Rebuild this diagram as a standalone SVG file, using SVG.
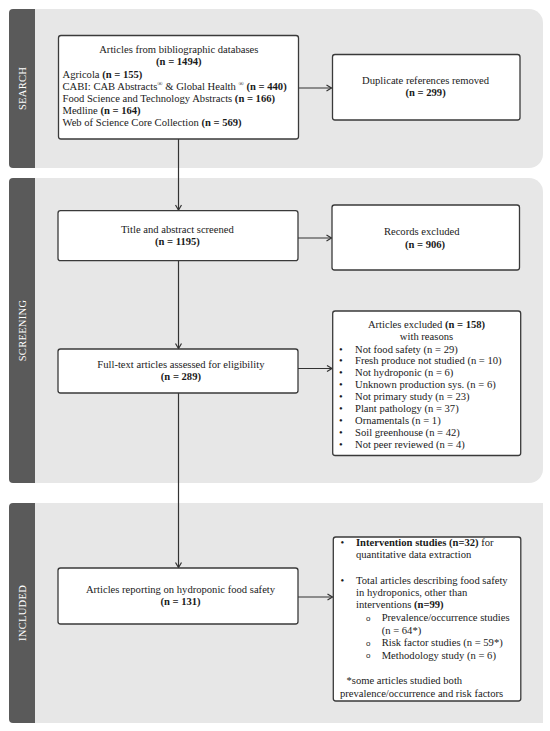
<svg xmlns="http://www.w3.org/2000/svg" width="550" height="731" viewBox="0 0 550 731">
<defs>
<style>
.panel{fill:#e7e7e7}
.side{fill:#5a5a5a}
.stage{fill:#ffffff;font-family:"Liberation Serif",serif;font-size:10.5px;text-anchor:middle;letter-spacing:0.3px}
.box{fill:#ffffff;stroke:#3a3a3a;stroke-width:1.3}
.t{font-family:"Liberation Serif",serif;font-size:10.6px;fill:#1a1a1a}
.c{text-anchor:middle}
.b{font-weight:bold}
.sup{font-size:7px}
.o{font-family:"Liberation Sans",sans-serif;font-size:8px;fill:#1a1a1a}
.conn{stroke:#333333;stroke-width:1.2;fill:none}
</style>
<marker id="ah" markerUnits="userSpaceOnUse" markerWidth="8" markerHeight="8" refX="6" refY="4" orient="auto">
<path d="M1,1 L6,4 L1,7" fill="none" stroke="#333333" stroke-width="1.2"/>
</marker>
</defs>

<g id="panels">
<rect class="panel" x="9" y="9" width="534" height="159" rx="14"/>
<path class="side" d="M13,9 H35 V168 H13 Q9,168 9,164 V13 Q9,9 13,9 Z"/>
<text class="stage" transform="translate(25.5,88.5) rotate(-90)">SEARCH</text>
<rect class="panel" x="9" y="178" width="534" height="305" rx="14"/>
<path class="side" d="M13,178 H35 V483 H13 Q9,483 9,479 V182 Q9,178 13,178 Z"/>
<text class="stage" transform="translate(25.5,330.5) rotate(-90)">SCREENING</text>
<rect class="panel" x="15" y="503" width="528" height="220"/>
<path class="side" d="M13,503 H35 V723 H13 Q9,723 9,719 V507 Q9,503 13,503 Z"/>
<text class="stage" transform="translate(25.5,613) rotate(-90)">INCLUDED</text>
</g>

<g id="connectors">
<line class="conn" x1="298.5" y1="88" x2="331.5" y2="88" marker-end="url(#ah)"/>
<line class="conn" x1="178.5" y1="139" x2="178.5" y2="210" marker-end="url(#ah)"/>
<line class="conn" x1="298" y1="238" x2="331.5" y2="238" marker-end="url(#ah)"/>
<line class="conn" x1="178.5" y1="261" x2="178.5" y2="348.5" marker-end="url(#ah)"/>
<line class="conn" x1="298" y1="368.5" x2="332" y2="368.5" marker-end="url(#ah)"/>
<line class="conn" x1="178.5" y1="393" x2="178.5" y2="567.5" marker-end="url(#ah)"/>
<line class="conn" x1="298" y1="597" x2="332.5" y2="597" marker-end="url(#ah)"/>
</g>

<g id="databases">
<rect class="box" x="58.5" y="35.5" width="240" height="103.5" rx="2.5"/>
<text class="t c" x="178.8" y="52.5">Articles from bibliographic databases</text>
<text class="t c b" x="178.8" y="65">(n = 1494)</text>
<text class="t" x="62.5" y="77.5">Agricola <tspan class="b">(n = 155)</tspan></text>
<text class="t" x="62.5" y="89.7">CABI: CAB Abstracts<tspan class="sup" dy="-3.5">®</tspan><tspan dy="3.5"> &amp; Global Health </tspan><tspan class="sup" dy="-3.5">®</tspan><tspan dy="3.5"> </tspan><tspan class="b">(n = 440)</tspan></text>
<text class="t" x="62.5" y="101.9">Food Science and Technology Abstracts <tspan class="b">(n = 166)</tspan></text>
<text class="t" x="62.5" y="114.1">Medline <tspan class="b">(n = 164)</tspan></text>
<text class="t" x="62.5" y="126.3">Web of Science Core Collection <tspan class="b">(n = 569)</tspan></text>
</g>

<g id="duplicates">
<rect class="box" x="332.5" y="54.5" width="187.5" height="65.5" rx="2.5"/>
<text class="t c" x="425.6" y="84">Duplicate references removed</text>
<text class="t c b" x="425.6" y="96">(n = 299)</text>
</g>

<g id="title-abstract">
<rect class="box" x="58" y="210.7" width="240" height="50" rx="2.5"/>
<text class="t c" x="177.4" y="232.7">Title and abstract screened</text>
<text class="t c b" x="177.4" y="245">(n = 1195)</text>
</g>

<g id="records-excluded">
<rect class="box" x="332" y="205" width="187.5" height="65" rx="2.5"/>
<text class="t c" x="421.7" y="235">Records excluded</text>
<text class="t c b" x="425" y="247.5">(n = 906)</text>
</g>

<g id="full-text">
<rect class="box" x="58" y="349" width="240" height="44" rx="2.5"/>
<text class="t c" x="180.9" y="367.5">Full-text articles assessed for eligibility</text>
<text class="t c b" x="180.9" y="379.5">(n = 289)</text>
</g>

<g id="articles-excluded">
<rect class="box" x="332.7" y="311" width="188" height="144.5" rx="2.5"/>
<text class="t c" x="426.5" y="328">Articles excluded <tspan class="b">(n = 158)</tspan></text>
<text class="t c" x="426.5" y="340">with reasons</text>
<text class="t" x="339" y="352.5">•</text>
<text class="t" x="339" y="364.4">•</text>
<text class="t" x="339" y="376.3">•</text>
<text class="t" x="339" y="388.2">•</text>
<text class="t" x="339" y="400.1">•</text>
<text class="t" x="339" y="412">•</text>
<text class="t" x="339" y="423.9">•</text>
<text class="t" x="339" y="435.8">•</text>
<text class="t" x="339" y="447.7">•</text>
<text class="t" x="355" y="352.5">Not food safety (n = 29)</text>
<text class="t" x="355" y="364.4">Fresh produce not studied (n = 10)</text>
<text class="t" x="355" y="376.3">Not hydroponic (n = 6)</text>
<text class="t" x="355" y="388.2">Unknown production sys. (n = 6)</text>
<text class="t" x="355" y="400.1">Not primary study (n = 23)</text>
<text class="t" x="355" y="412">Plant pathology (n = 37)</text>
<text class="t" x="355" y="423.9">Ornamentals (n = 1)</text>
<text class="t" x="355" y="435.8">Soil greenhouse (n = 42)</text>
<text class="t" x="355" y="447.7">Not peer reviewed (n = 4)</text>
</g>

<g id="included">
<rect class="box" x="58" y="568" width="240" height="56" rx="2.5"/>
<text class="t c" x="180.5" y="593">Articles reporting on hydroponic food safety</text>
<text class="t c b" x="180.5" y="605">(n = 131)</text>
</g>

<g id="included-details">
<rect class="box" x="333.3" y="537" width="187.5" height="164" rx="2.5"/>
<text class="t" x="340.5" y="545.5">•</text>
<text class="t" x="356" y="545.5"><tspan class="b">Intervention studies (n=32)</tspan> for</text>
<text class="t" x="356" y="558">quantitative data extraction</text>
<text class="t" x="340.5" y="583.5">•</text>
<text class="t" x="356" y="583.5">Total  articles describing food safety</text>
<text class="t" x="356" y="596">in hydroponics, other than</text>
<text class="t" x="356" y="608.3">interventions <tspan class="b">(n=99)</tspan></text>
<text class="o" x="366" y="620.5">o</text>
<text class="t" x="381.7" y="621">Prevalence/occurrence studies</text>
<text class="t" x="381.7" y="633.5">(n = 64*)</text>
<text class="o" x="366" y="645.5">o</text>
<text class="t" x="381.7" y="646">Risk factor studies (n = 59*)</text>
<text class="o" x="366" y="658">o</text>
<text class="t" x="381.7" y="658.5">Methodology study (n = 6)</text>
<text class="t" x="346.5" y="683.5">*some articles studied both</text>
<text class="t" x="340" y="697">prevalence/occurrence and risk factors</text>
</g>
</svg>
